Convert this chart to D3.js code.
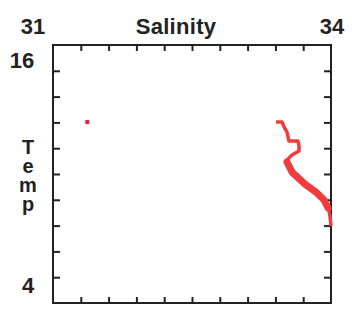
<!DOCTYPE html>
<html>
<head>
<meta charset="UTF-8">
<title>Salinity vs Temp</title>
<style>
  body { margin: 0; background: #fff; }
  text { font-family: "Liberation Sans", Arial, sans-serif; font-weight: bold; fill: #222; }
  .vert { writing-mode: vertical-rl; text-orientation: upright; }
</style>
</head>
<body>
<div id="chart"></div>
<script src="https://d3js.org/d3.v7.min.js"></script>
<script>
// axis ranges and labels
const salRange = [31, 34];
const tempRange = [4, 16];
const tempTitle = "Temp";

// lone surface reading
const dotSal = [31.37];
const dotTemp = [12.42];

// profile trace
const profSal = [33.406, 33.471, 33.493, 33.525, 33.536, 33.547, 33.644, 33.655, 33.655, 33.579,
                 33.536, 33.525, 33.558, 33.611, 33.719, 33.827, 33.914, 33.968, 33.989, 34.0];
const profTemp = [12.42, 12.42, 12.19, 11.95, 11.72, 11.53, 11.53, 11.30, 11.07, 10.88,
                  10.70, 10.47, 10.28, 9.91, 9.49, 9.16, 8.84, 8.47, 8.05, 7.58];

// dense part of the trace (many overlapping points)
const bandSal = [33.525, 33.579, 33.719, 33.838, 33.925, 33.968];
const bandTemp = [10.56, 10.09, 9.53, 9.16, 8.79, 8.42];

const W = 352, H = 311;
const PL = 53, PR = 331, PT = 45, PB = 303;

const x = d3.scaleLinear().domain(salRange).range([PL, PR]);
const y = d3.scaleLinear().domain(tempRange).range([PB, PT]);

const svg = d3.select("#chart").append("svg")
  .attr("width", W).attr("height", H);

// frame
svg.append("rect")
  .attr("x", PL).attr("y", PT)
  .attr("width", PR - PL).attr("height", PB - PT)
  .attr("fill", "none").attr("stroke", "#222").attr("stroke-width", 2);

// inward ticks
const xt = d3.range(1, 10).map(i => salRange[0] + i * 0.3);
const yt = d3.range(1, 10).map(i => tempRange[0] + i * 1.2);

svg.append("g").attr("transform", `translate(0,${PT})`)
  .call(d3.axisBottom(x).tickValues(xt).tickSize(6).tickFormat(""))
  .call(g => g.select(".domain").remove());
svg.append("g").attr("transform", `translate(0,${PB})`)
  .call(d3.axisTop(x).tickValues(xt).tickSize(6).tickFormat(""))
  .call(g => g.select(".domain").remove());
svg.append("g").attr("transform", `translate(${PL},0)`)
  .call(d3.axisRight(y).tickValues(yt).tickSize(7).tickFormat(""))
  .call(g => g.select(".domain").remove());
svg.append("g").attr("transform", `translate(${PR},0)`)
  .call(d3.axisLeft(y).tickValues(yt).tickSize(7).tickFormat(""))
  .call(g => g.select(".domain").remove());
svg.selectAll(".tick line").attr("stroke", "#222").attr("stroke-width", 2);

// labels
const fs = 22;
svg.append("text").attr("x", x(salRange[0]) - 20).attr("y", 34).attr("text-anchor", "middle")
  .attr("font-size", fs).text(salRange[0]);
svg.append("text").attr("x", x(salRange[1]) + 1).attr("y", 34).attr("text-anchor", "middle")
  .attr("font-size", fs).text(salRange[1]);
svg.append("text").attr("x", 176).attr("y", 34).attr("text-anchor", "middle")
  .attr("font-size", fs).attr("letter-spacing", 0.3).text("Salinity");
svg.append("text").attr("x", 22).attr("y", 68).attr("text-anchor", "middle")
  .attr("font-size", fs).text(tempRange[1]);
svg.append("text").attr("x", 28).attr("y", 293).attr("text-anchor", "middle")
  .attr("font-size", fs).text(tempRange[0]);

// vertical "Temp", upright letters stacked
svg.append("text").attr("class", "vert")
  .attr("x", 28).attr("y", 136)
  .attr("font-size", 20).attr("letter-spacing", -3)
  .text(tempTitle);

// data
const red = "#f23c3c";
const line = d3.line().x(d => x(d[0])).y(d => y(d[1]));
svg.append("path").datum(profSal.map((s, i) => [s, profTemp[i]]))
  .attr("d", line).attr("fill", "none").attr("stroke", red)
  .attr("stroke-width", 3.5).attr("stroke-linejoin", "round");
svg.append("path").datum(bandSal.map((s, i) => [s, bandTemp[i]]))
  .attr("d", line).attr("fill", "none").attr("stroke", red)
  .attr("stroke-width", 7).attr("stroke-linecap", "round").attr("stroke-linejoin", "round");
svg.selectAll(".dot").data(dotSal).enter().append("rect")
  .attr("x", (d, i) => x(d) - 2).attr("y", (d, i) => y(dotTemp[i]) - 2)
  .attr("width", 4).attr("height", 4).attr("fill", "#e8203c");
</script>
</body>
</html>
